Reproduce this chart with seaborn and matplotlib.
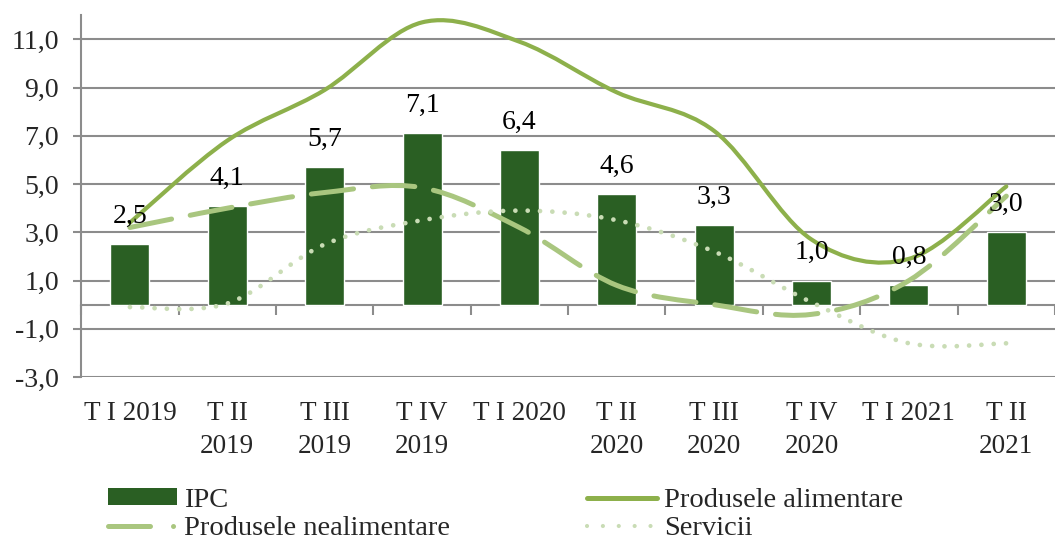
import numpy as np
import seaborn as sns
import matplotlib
matplotlib.use("Agg")
import matplotlib.pyplot as plt
from matplotlib.path import Path
from matplotlib.patches import PathPatch, Patch
from matplotlib.lines import Line2D
from matplotlib.ticker import FuncFormatter

# data
quarters = ["T I 2019", "T II\n2019", "T III\n2019", "T IV\n2019", "T I 2020",
            "T II\n2020", "T III\n2020", "T IV\n2020", "T I 2021", "T II\n2021"]
ipc = [2.5, 4.1, 5.7, 7.1, 6.4, 4.6, 3.3, 1.0, 0.8, 3.0]
alimentare = [3.4, 6.8, 8.9, 11.7, 10.9, 8.8, 7.2, 2.7, 1.9, 4.9]
nealimentare = [3.2, 4.0, 4.65, 4.85, 3.2, 0.8, 0.0, -0.4, 1.0, 4.5]
servicii = [-0.1, 0.05, 2.5, 3.5, 3.9, 3.5, 2.2, 0.1, -1.6, -1.6]

BAR = "#2a5f23"
C_ALIM = "#8db04b"
C_NEAL = "#a9c67f"
C_SERV = "#c9dcb5"
GRID = "#8c8c8c"
FS = 20

sns.set_theme(style="white")
plt.rcParams["font.family"] = ["Liberation Serif", "DejaVu Serif"]


def fmt(v):
    return f"{v:.1f}".replace(".", ",")


# smooth curve like the spreadsheet chart (bezier through the points)
def smooth_path(vals):
    pts = np.column_stack([np.arange(len(vals)), vals]).astype(float)
    ext = np.vstack([pts[0], pts, pts[-1]])
    verts = [pts[0]]
    codes = [Path.MOVETO]
    for i in range(len(pts) - 1):
        p0, p1, p2, p3 = ext[i], ext[i + 1], ext[i + 2], ext[i + 3]
        verts += [p1 + (p2 - p0) / 6, p2 - (p3 - p1) / 6, p2]
        codes += [Path.CURVE4] * 3
    return Path(verts, codes)


fig = plt.figure(figsize=(10.55, 5.41), dpi=100)
ax = fig.add_axes([0.077, 0.303, 0.923, 0.669])

sns.barplot(x=list(range(len(ipc))), y=ipc, color=BAR, width=0.4,
            saturation=1, ax=ax, zorder=3)
ax.bar_label(ax.containers[0], labels=[fmt(v) for v in ipc], padding=11,
             fontsize=FS, color="black", zorder=6)

styles = [
    (alimentare, C_ALIM, dict(linewidth=3.0, linestyle="-", capstyle="round")),
    (nealimentare, C_NEAL, dict(linewidth=3.6, linestyle=(0, (8.5, 3.8)), capstyle="round")),
    (servicii, C_SERV, dict(linewidth=3.4, linestyle=(0, (0.01, 2.6)), capstyle="round")),
]
for vals, col, kw in styles:
    ax.add_patch(PathPatch(smooth_path(vals), facecolor="none", edgecolor=col,
                           zorder=4, **kw))

ax.set_xlim(-0.5, 9.5)
ax.set_ylim(-3, 12)
ax.set_yticks(np.arange(-3, 12, 2))
ax.yaxis.set_major_formatter(FuncFormatter(lambda v, p: fmt(v)))
ax.grid(axis="y", color=GRID, linewidth=1.5, zorder=0)
ax.set_axisbelow(True)

for s in ["top", "right", "bottom"]:
    ax.spines[s].set_visible(False)
ax.spines["left"].set_color(GRID)
ax.spines["left"].set_linewidth(1.5)
ax.tick_params(axis="y", length=6, width=1.5, color=GRID, labelsize=FS, pad=10,
               left=True)

ax.set_xticks(range(len(quarters)))
ax.set_xticklabels(quarters, fontsize=19.5, linespacing=1.45)
ax.tick_params(axis="x", length=0, pad=17)
ax.set_xlabel("")

# category axis crossing at zero
sec = ax.secondary_xaxis(3 / 15)
sec.set_xticks(np.arange(-0.5, 10, 1))
sec.set_xticklabels([])
sec.tick_params(axis="x", length=7, width=1.5, color=GRID, direction="out")
sec.spines["bottom"].set_color(GRID)
sec.spines["bottom"].set_linewidth(1.5)

handles = [
    Patch(facecolor=BAR, edgecolor="none"),
    Line2D([], [], color=C_NEAL, linewidth=3.6, linestyle=(0, (8.4, 4.6, 0.01, 12)),
           dash_capstyle="round"),
    Line2D([], [], color=C_ALIM, linewidth=3.6, solid_capstyle="round"),
    Line2D([], [], color=C_SERV, linewidth=3.0, linestyle=(0, (0.01, 3.8)),
           dash_capstyle="round"),
]
labels = ["IPC", "Produsele nealimentare", "Produsele alimentare", "Servicii"]
fig.legend(handles, labels, ncol=2, loc="upper left", bbox_to_anchor=(0.102, 0.098),
           frameon=False, fontsize=20.5, handlelength=2.45, handleheight=0.55,
           handletextpad=0.25, columnspacing=4.8, labelspacing=0.12,
           borderpad=0, borderaxespad=0)

fig.savefig("out.png", dpi=100)
